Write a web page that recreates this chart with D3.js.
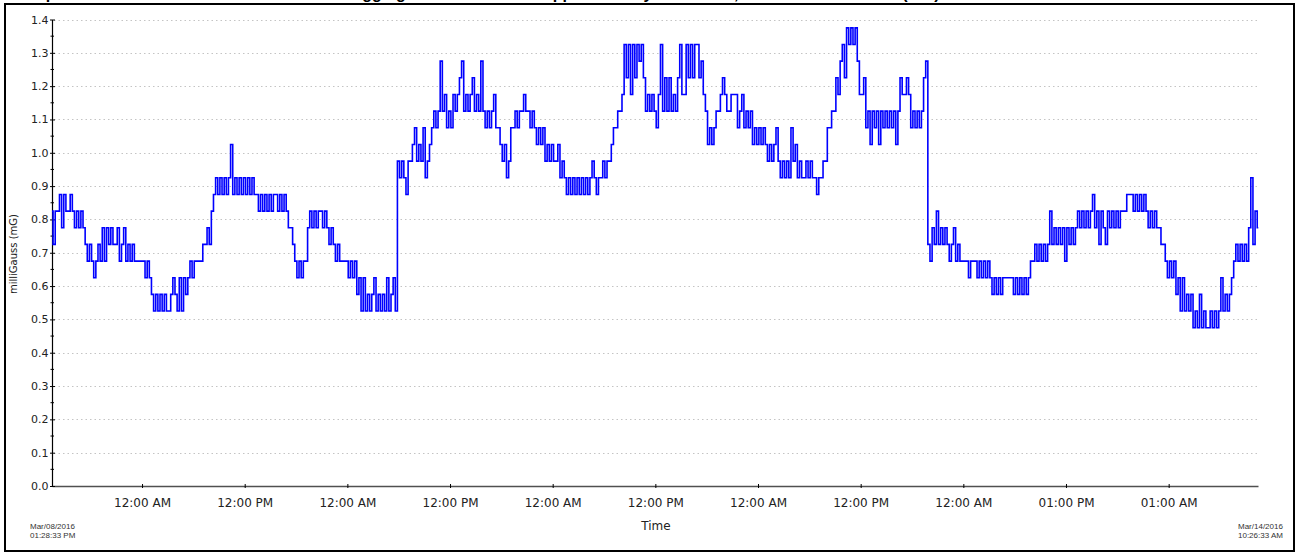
<!DOCTYPE html>
<html>
<head>
<meta charset="utf-8">
<script src="https://cdn.jsdelivr.net/npm/d3@7"></script>
<style>
  html, body { margin: 0; padding: 0; background: #fff; overflow: hidden; }
  svg { display: block; }
</style>
</head>
<body>
<svg id="chart" width="1297" height="554"></svg>
<script>
// ---- Logger session -------------------------------------------------------
const titleText = "Example of Three-Axis ELF Field Meter Data Logging in Bedroom over Approximately 141 Hours, Values in milliGauss (mG)";
const startTime = "2016-03-08T13:28:33";
const endTime = "2016-03-14T10:26:33";
const logIntervalMinutes = 15;

// Field readings in mG, one per logging interval
const readings = [
  0.825, 0.725, 0.825, 0.825,
  0.875, 0.775, 0.875, 0.825, 0.825, 0.875,
  0.825, 0.775, 0.825, 0.775, 0.825, 0.775, 0.725,
  0.675, 0.725, 0.675, 0.625, 0.675,
  0.725, 0.675, 0.775, 0.675, 0.775, 0.725, 0.775,
  0.725, 0.725,
  0.775, 0.675, 0.725, 0.775, 0.675, 0.725, 0.675, 0.725, 0.675,
  0.675, 0.675, 0.675, 0.675,
  0.625, 0.675, 0.625,
  0.575, 0.525, 0.575, 0.525, 0.575, 0.525, 0.575, 0.525, 0.525, 0.575,
  0.625, 0.575, 0.525, 0.625, 0.525, 0.625, 0.575,
  0.625, 0.675, 0.625, 0.675,
  0.675, 0.675, 0.675,
  0.725, 0.725, 0.775, 0.725, 0.825, 0.875,
  0.925, 0.875, 0.925, 0.875, 0.925, 0.875, 0.925, 1.025, 0.875, 0.925,
  0.875, 0.925, 0.875, 0.925, 0.875, 0.925, 0.875, 0.925, 0.875, 0.875,
  0.825, 0.875, 0.825, 0.875, 0.825, 0.875, 0.825, 0.875, 0.875, 0.825, 0.875, 0.825, 0.875,
  0.825, 0.775, 0.775, 0.725,
  0.675, 0.625, 0.675, 0.625, 0.675, 0.675,
  0.775, 0.825, 0.775, 0.825, 0.775, 0.825, 0.825, 0.775, 0.825,
  0.775, 0.725, 0.775,
  0.725, 0.675, 0.725, 0.675, 0.675, 0.675, 0.675,
  0.625, 0.675, 0.625, 0.675, 0.575, 0.625,
  0.525, 0.625, 0.525, 0.575, 0.525, 0.575, 0.625, 0.525, 0.575, 0.525,
  0.575, 0.525, 0.625, 0.525, 0.575, 0.625, 0.525,
  0.975,
  0.925, 0.975, 0.925, 0.875, 0.975,
  0.975,
  1.025, 1.075, 0.975, 1.025, 0.975, 1.075,
  0.925, 0.975,
  1.025, 1.075,
  1.125, 1.075, 1.125, 1.275, 1.125, 1.175, 1.075, 1.125, 1.075, 1.175, 1.125, 1.175, 1.225,
  1.275, 1.125, 1.175, 1.125, 1.175, 1.225, 1.125, 1.175, 1.125, 1.275,
  1.125, 1.075, 1.125, 1.075, 1.125, 1.175, 1.075, 1.075,
  1.025, 0.975, 1.025, 0.925, 0.975, 1.075,
  1.075, 1.125, 1.075, 1.125, 1.125, 1.175,
  1.125, 1.125, 1.075, 1.125, 1.075,
  1.025, 1.075, 1.025, 1.075, 0.975,
  1.025, 0.975, 1.025, 0.975, 0.975, 1.025,
  0.925, 0.975, 0.925,
  0.875, 0.925, 0.875, 0.925, 0.875, 0.925, 0.875, 0.925, 0.875, 0.925, 0.875, 0.925,
  0.975, 0.925, 0.875, 0.925, 0.925, 0.975, 0.925, 0.975, 0.975,
  1.025, 1.075, 1.075, 1.125, 1.125, 1.175,
  1.325, 1.225, 1.325, 1.175, 1.325, 1.225, 1.325,
  1.275, 1.325,
  1.225, 1.125, 1.175, 1.125, 1.175, 1.125, 1.075,
  1.175, 1.325, 1.125, 1.225, 1.125, 1.225, 1.125, 1.175, 1.125, 1.225, 1.325,
  1.175, 1.175, 1.325, 1.225, 1.325, 1.225, 1.325, 1.325, 1.225,
  1.275, 1.175, 1.125,
  1.025, 1.075, 1.025, 1.075,
  1.125, 1.125, 1.175, 1.225, 1.175,
  1.125, 1.125, 1.175, 1.175, 1.175,
  1.075, 1.125, 1.175, 1.075, 1.125, 1.075, 1.125,
  1.025, 1.075, 1.025, 1.075, 1.025, 1.075, 1.025,
  0.975, 1.025, 0.975, 1.025, 1.075, 0.975,
  0.925, 0.975, 0.925, 0.975, 0.925,
  1.075, 0.975, 1.025,
  0.925, 0.975, 0.925, 0.925, 0.975, 0.925, 0.975, 0.925, 0.925, 0.875,
  0.925, 0.925,
  0.975, 0.975, 1.075, 1.075, 1.125, 1.125, 1.225, 1.175, 1.275,
  1.325, 1.225, 1.375, 1.325, 1.375, 1.325, 1.375,
  1.275, 1.175, 1.175, 1.225,
  1.075, 1.125, 1.025, 1.125, 1.075, 1.125, 1.025, 1.125,
  1.075, 1.125, 1.075, 1.125, 1.075, 1.125, 1.025, 1.125,
  1.225, 1.175, 1.175, 1.225, 1.175,
  1.075, 1.125, 1.075, 1.125, 1.075, 1.125,
  1.225, 1.275,
  0.725, 0.675, 0.775, 0.725, 0.825,
  0.725, 0.775, 0.725, 0.775, 0.725,
  0.675, 0.725, 0.775, 0.675, 0.725, 0.675,
  0.675, 0.675, 0.675,
  0.625,
  0.675, 0.675, 0.675,
  0.625, 0.675, 0.625, 0.675, 0.625, 0.675, 0.625,
  0.575, 0.625, 0.575, 0.625, 0.575, 0.625,
  0.625, 0.625, 0.625, 0.625,
  0.575, 0.625, 0.575, 0.625, 0.575, 0.625, 0.575,
  0.625, 0.675, 0.675,
  0.725, 0.675, 0.725, 0.675, 0.725, 0.675,
  0.725, 0.825,
  0.725, 0.775, 0.725, 0.775, 0.725, 0.775, 0.675, 0.775, 0.725, 0.775, 0.725, 0.775,
  0.825, 0.775, 0.825, 0.775, 0.825, 0.775, 0.825, 0.875, 0.775, 0.825, 0.725, 0.825,
  0.775, 0.725, 0.825, 0.775, 0.825, 0.775, 0.825, 0.775, 0.825, 0.825, 0.825,
  0.875, 0.875, 0.875, 0.825, 0.875, 0.825, 0.875, 0.825, 0.875, 0.825,
  0.775, 0.825, 0.775, 0.825, 0.775,
  0.775, 0.725, 0.725, 0.675,
  0.625, 0.675, 0.625, 0.675, 0.575, 0.625,
  0.525, 0.625, 0.525, 0.575, 0.525, 0.575,
  0.475, 0.525, 0.475, 0.575, 0.475, 0.525, 0.475, 0.475, 0.525, 0.475, 0.525, 0.475, 0.525,
  0.625, 0.525, 0.575, 0.525, 0.575, 0.625, 0.675, 0.725,
  0.675, 0.725, 0.675, 0.725, 0.675, 0.775,
  0.925, 0.725, 0.825, 0.775
];

// ---- Axes -----------------------------------------------------------------
const yTicks = [0.0, 0.1, 0.2, 0.3, 0.4, 0.5, 0.6, 0.7, 0.8, 0.9, 1.0, 1.1, 1.2, 1.3, 1.4];
const xTickTimes = [
  "2016-03-09T00:00:00", "2016-03-09T12:00:00", "2016-03-10T00:00:00", "2016-03-10T12:00:00",
  "2016-03-11T00:00:00", "2016-03-11T12:00:00", "2016-03-12T00:00:00", "2016-03-12T12:00:00",
  "2016-03-13T00:00:00", "2016-03-13T12:00:00", "2016-03-14T00:00:00"
];
const xTickLabels = [
  "12:00 AM", "12:00 PM", "12:00 AM", "12:00 PM", "12:00 AM", "12:00 PM",
  "12:00 AM", "12:00 PM", "12:00 AM", "01:00 PM", "01:00 AM"
];
const startStamp = ["Mar/08/2016", "01:28:33 PM"];
const endStamp = ["Mar/14/2016", "10:26:33 AM"];
const xTitle = "Time";
const yTitle = "milliGauss (mG)";

// ---- Drawing --------------------------------------------------------------
const parseTime = d3.utcParse("%Y-%m-%dT%H:%M:%S");
const t0 = parseTime(startTime);
const t1 = parseTime(endTime);

const series = readings.map((v, i) => ({ t: d3.utcMinute.offset(t0, i * logIntervalMinutes), v }));

const plot = { left: 52, right: 1258, top: 19.5, bottom: 486 };
const x = d3.scaleUtc().domain([t0, t1]).range([plot.left, plot.right]);
const y = d3.scaleLinear().domain([0, 1.4]).range([plot.bottom, plot.top]);

const svg = d3.select("#chart");
const sans = "'DejaVu Sans', Verdana, sans-serif";

// Title (sits above the frame; only its lowest strokes fall inside the page)
svg.append("text")
  .attr("x", 3).attr("y", -0.6)
  .attr("font-family", "'Liberation Sans', Arial, sans-serif")
  .attr("font-weight", "bold").attr("font-size", 16)
  .attr("fill", "#000")
  .text(titleText);

// Outer frame
svg.append("rect")
  .attr("x", 5).attr("y", 4).attr("width", 1289).attr("height", 547)
  .attr("fill", "none").attr("stroke", "#000").attr("stroke-width", 2);

// Dotted horizontal grid
svg.append("g")
  .selectAll("line")
  .data(yTicks.filter(d => d > 0))
  .join("line")
  .attr("x1", plot.left + 2).attr("x2", plot.right)
  .attr("y1", d => Math.round(y(d)) + 0.5).attr("y2", d => Math.round(y(d)) + 0.5)
  .attr("stroke", "#c4c4c4").attr("stroke-width", 1)
  .attr("stroke-dasharray", "1.5,3");

// X axis
const xAxis = svg.append("g")
  .attr("transform", `translate(0,${plot.bottom})`)
  .call(d3.axisBottom(x)
    .tickValues(xTickTimes.map(parseTime))
    .tickFormat((d, i) => xTickLabels[i])
    .tickSizeInner(2).tickSizeOuter(0).tickPadding(10.5));
xAxis.select(".domain").attr("stroke", "#505050").attr("stroke-width", 1.3);
xAxis.selectAll(".tick line").attr("y1", -2).attr("stroke", "#000");
xAxis.selectAll(".tick text")
  .attr("font-family", sans).attr("font-size", 12).attr("fill", "#222");

// Y axis: labelled ticks, a short mark on the inner side and minor marks
const yAxis = svg.append("g")
  .attr("transform", `translate(${plot.left},0)`)
  .call(d3.axisLeft(y)
    .tickValues(yTicks)
    .tickFormat(d3.format(".1f"))
    .tickSizeInner(2).tickSizeOuter(0).tickPadding(1.5));
yAxis.select(".domain").attr("stroke", "#000").attr("stroke-width", 1.2);
yAxis.selectAll(".tick line").attr("x2", 3).attr("x1", -2).attr("stroke", "#000");
yAxis.selectAll(".tick text")
  .attr("font-family", sans).attr("font-size", 11).attr("fill", "#222");

const minorTicks = yTicks.slice(1).map(d => d - 0.05);
svg.append("g")
  .selectAll("line")
  .data(minorTicks)
  .join("line")
  .attr("x1", plot.left - 1.5).attr("x2", plot.left + 2)
  .attr("y1", d => y(d)).attr("y2", d => y(d))
  .attr("stroke", "#000").attr("stroke-width", 1);

// Field trace: the logger holds each reading until the next one
svg.append("path")
  .datum(series)
  .attr("fill", "none")
  .attr("stroke", "#0000ff")
  .attr("stroke-width", 1.6)
  .attr("d", d3.line().curve(d3.curveStep).x(d => x(d.t)).y(d => y(d.v)));

// Axis titles
svg.append("text")
  .attr("x", (plot.left + plot.right) / 2 + 1).attr("y", 530)
  .attr("text-anchor", "middle")
  .attr("font-family", sans).attr("font-size", 12).attr("fill", "#222")
  .text(xTitle);

svg.append("text")
  .attr("transform", `translate(17,254) rotate(-90)`)
  .attr("text-anchor", "middle")
  .attr("font-family", sans).attr("font-size", 10).attr("fill", "#222")
  .text(yTitle);

// Session start / end stamps
function stamp(lines, xPos) {
  const t = svg.append("text")
    .attr("font-family", "'Liberation Sans', Arial, sans-serif")
    .attr("font-size", 8).attr("fill", "#333");
  lines.forEach((s, i) => {
    t.append("tspan").attr("x", xPos).attr("y", 529 + i * 9.2).text(s);
  });
}
stamp(startStamp, 30);
stamp(endStamp, 1238);
</script>
</body>
</html>
